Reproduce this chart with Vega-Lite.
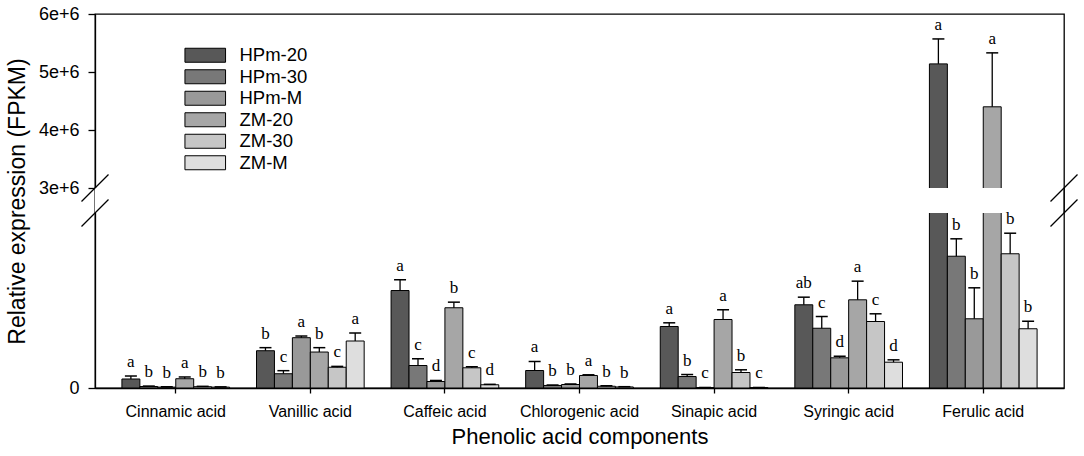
{
  "$schema": "https://vega.github.io/schema/vega-lite/v6.json",
  "width": 969,
  "height": 374,
  "autosize": {"type": "none"},
  "padding": {"left": 95, "top": 14, "right": 20, "bottom": 68},
  "background": "white",
  "datasets": {
    "fpkm": [
      {"acid": "Cinnamic acid", "group": "HPm-20", "value": 103000, "upper": 137000, "letter": "a"},
      {"acid": "Cinnamic acid", "group": "HPm-30", "value": 17000, "upper": 22000, "letter": "b"},
      {"acid": "Cinnamic acid", "group": "HPm-M", "value": 10000, "upper": 14000, "letter": "b"},
      {"acid": "Cinnamic acid", "group": "ZM-20", "value": 106000, "upper": 126000, "letter": "a"},
      {"acid": "Cinnamic acid", "group": "ZM-30", "value": 15000, "upper": 19000, "letter": "b"},
      {"acid": "Cinnamic acid", "group": "ZM-M", "value": 10000, "upper": 13000, "letter": "b"},
      {"acid": "Vanillic acid", "group": "HPm-20", "value": 426000, "upper": 461000, "letter": "b"},
      {"acid": "Vanillic acid", "group": "HPm-30", "value": 163000, "upper": 198000, "letter": "c"},
      {"acid": "Vanillic acid", "group": "HPm-M", "value": 575000, "upper": 594000, "letter": "a"},
      {"acid": "Vanillic acid", "group": "ZM-20", "value": 411000, "upper": 461000, "letter": "b"},
      {"acid": "Vanillic acid", "group": "ZM-30", "value": 237000, "upper": 247000, "letter": "c"},
      {"acid": "Vanillic acid", "group": "ZM-M", "value": 537000, "upper": 629000, "letter": "a"},
      {"acid": "Caffeic acid", "group": "HPm-20", "value": 1114000, "upper": 1237000, "letter": "a"},
      {"acid": "Caffeic acid", "group": "HPm-30", "value": 257000, "upper": 334000, "letter": "c"},
      {"acid": "Caffeic acid", "group": "HPm-M", "value": 74000, "upper": 86000, "letter": "d"},
      {"acid": "Caffeic acid", "group": "ZM-20", "value": 917000, "upper": 981000, "letter": "b"},
      {"acid": "Caffeic acid", "group": "ZM-30", "value": 231000, "upper": 243000, "letter": "c"},
      {"acid": "Caffeic acid", "group": "ZM-M", "value": 37000, "upper": 42000, "letter": "d"},
      {"acid": "Chlorogenic acid", "group": "HPm-20", "value": 200000, "upper": 303000, "letter": "a"},
      {"acid": "Chlorogenic acid", "group": "HPm-30", "value": 29000, "upper": 34000, "letter": "b"},
      {"acid": "Chlorogenic acid", "group": "HPm-M", "value": 40000, "upper": 46000, "letter": "b"},
      {"acid": "Chlorogenic acid", "group": "ZM-20", "value": 143000, "upper": 151000, "letter": "a"},
      {"acid": "Chlorogenic acid", "group": "ZM-30", "value": 20000, "upper": 25000, "letter": "b"},
      {"acid": "Chlorogenic acid", "group": "ZM-M", "value": 12000, "upper": 15000, "letter": "b"},
      {"acid": "Sinapic acid", "group": "HPm-20", "value": 703000, "upper": 745000, "letter": "a"},
      {"acid": "Sinapic acid", "group": "HPm-30", "value": 131000, "upper": 154000, "letter": "b"},
      {"acid": "Sinapic acid", "group": "HPm-M", "value": 5000, "upper": 6000, "letter": "c"},
      {"acid": "Sinapic acid", "group": "ZM-20", "value": 783000, "upper": 894000, "letter": "a"},
      {"acid": "Sinapic acid", "group": "ZM-30", "value": 177000, "upper": 208000, "letter": "b"},
      {"acid": "Sinapic acid", "group": "ZM-M", "value": 5000, "upper": 6000, "letter": "c"},
      {"acid": "Syringic acid", "group": "HPm-20", "value": 951000, "upper": 1038000, "letter": "ab"},
      {"acid": "Syringic acid", "group": "HPm-30", "value": 683000, "upper": 817000, "letter": "c"},
      {"acid": "Syringic acid", "group": "HPm-M", "value": 345000, "upper": 363000, "letter": "d"},
      {"acid": "Syringic acid", "group": "ZM-20", "value": 1008000, "upper": 1221000, "letter": "a"},
      {"acid": "Syringic acid", "group": "ZM-30", "value": 760000, "upper": 848000, "letter": "c"},
      {"acid": "Syringic acid", "group": "ZM-M", "value": 295000, "upper": 322000, "letter": "d"},
      {"acid": "Ferulic acid", "group": "HPm-20", "value": 5140000, "upper": 5570000, "letter": "a"},
      {"acid": "Ferulic acid", "group": "HPm-30", "value": 1506000, "upper": 1705000, "letter": "b"},
      {"acid": "Ferulic acid", "group": "HPm-M", "value": 791000, "upper": 1145000, "letter": "b"},
      {"acid": "Ferulic acid", "group": "ZM-20", "value": 4400000, "upper": 5330000, "letter": "a"},
      {"acid": "Ferulic acid", "group": "ZM-30", "value": 1534000, "upper": 1769000, "letter": "b"},
      {"acid": "Ferulic acid", "group": "ZM-M", "value": 677000, "upper": 763000, "letter": "b"}
    ],
    "gap": [{"from": 2000000, "to": 3000000}],
    "breaks": [{"at": 2000000}, {"at": 3000000}]
  },
  "layer": [
    {
      "data": {"name": "fpkm"},
      "mark": {"type": "bar", "stroke": "black", "strokeWidth": 1},
      "encoding": {
        "x": {"field": "acid", "type": "nominal", "sort": null, "title": "Phenolic acid components"},
        "xOffset": {"field": "group", "type": "nominal", "sort": null},
        "y": {
          "field": "value",
          "type": "quantitative",
          "title": "Relative expression (FPKM)",
          "scale": {"domain": [0, 2000000, 3000000, 6000000], "range": [374, 199, 174, 0], "nice": false, "zero": false},
          "axis": {"values": [0, 3000000, 4000000, 5000000, 6000000], "labelExpr": "datum.value == 0 ? '0' : (datum.value / 1000000) + 'e+6'"}
        },
        "fill": {
          "field": "group",
          "type": "nominal",
          "sort": null,
          "scale": {
            "domain": ["HPm-20", "HPm-30", "HPm-M", "ZM-20", "ZM-30", "ZM-M"],
            "range": ["#585858", "#787878", "#999999", "#a6a6a6", "#c6c6c6", "#dedede"]
          }
        }
      }
    },
    {
      "data": {"name": "gap"},
      "mark": {"type": "rect", "fill": "white"},
      "encoding": {
        "y": {"field": "from", "type": "quantitative"},
        "y2": {"field": "to"}
      }
    },
    {
      "data": {"name": "gap"},
      "mark": {"type": "rule", "color": "black", "strokeWidth": 1.3},
      "encoding": {
        "x": {"value": "width"},
        "y": {"field": "from", "type": "quantitative"},
        "y2": {"field": "to"}
      }
    },
    {
      "data": {"name": "fpkm"},
      "mark": {"type": "rule", "color": "black", "strokeWidth": 1.3},
      "encoding": {
        "x": {"field": "acid", "type": "nominal", "sort": null},
        "xOffset": {"field": "group", "type": "nominal", "sort": null},
        "y": {"field": "value", "type": "quantitative"},
        "y2": {"field": "upper"}
      }
    },
    {
      "data": {"name": "fpkm"},
      "mark": {"type": "tick", "orient": "horizontal", "color": "black", "thickness": 1.5, "size": 12, "opacity": 1},
      "encoding": {
        "x": {"field": "acid", "type": "nominal", "sort": null},
        "xOffset": {"field": "group", "type": "nominal", "sort": null},
        "y": {"field": "upper", "type": "quantitative"}
      }
    },
    {
      "data": {"name": "fpkm"},
      "mark": {"type": "text", "baseline": "bottom", "dy": -5, "font": "Liberation Serif", "fontSize": 17, "color": "black"},
      "encoding": {
        "x": {"field": "acid", "type": "nominal", "sort": null},
        "xOffset": {"field": "group", "type": "nominal", "sort": null},
        "y": {"field": "upper", "type": "quantitative"},
        "text": {"field": "letter"}
      }
    },
    {
      "data": {"name": "breaks"},
      "mark": {"type": "point", "shape": "M-1,1L1,-1", "size": 729, "filled": false, "stroke": "black", "strokeWidth": 1.3, "opacity": 1},
      "encoding": {
        "x": {"value": 0},
        "y": {"field": "at", "type": "quantitative"}
      }
    },
    {
      "data": {"name": "breaks"},
      "mark": {"type": "point", "shape": "M-1,1L1,-1", "size": 729, "filled": false, "stroke": "black", "strokeWidth": 1.3, "opacity": 1},
      "encoding": {
        "x": {"value": "width"},
        "y": {"field": "at", "type": "quantitative"}
      }
    }
  ],
  "config": {
    "font": "Liberation Sans",
    "view": {"stroke": "black", "strokeWidth": 1.3},
    "scale": {"bandPaddingInner": 0.39, "bandPaddingOuter": 0.695, "offsetBandPaddingInner": 0},
    "axis": {"grid": false, "domainColor": "black", "domainWidth": 1.3, "tickColor": "black", "tickWidth": 1.3, "labelColor": "black", "titleColor": "black", "labelFont": "Liberation Sans", "titleFont": "Liberation Sans", "titleFontWeight": "normal", "zindex": 1},
    "axisX": {"labelAngle": 0, "labelFontSize": 16, "tickSize": 5, "labelPadding": 10, "titleFontSize": 22, "titlePadding": 7},
    "axisY": {"labelFontSize": 18, "tickSize": 7, "labelPadding": 9, "titleFontSize": 23, "titlePadding": 9},
    "legend": {"orient": "none", "legendX": 101, "legendY": 32, "title": null, "padding": 0, "symbolType": "M-2.9,-1H2.9V1H-2.9Z", "symbolSize": 196, "symbolStrokeColor": "black", "symbolStrokeWidth": 1, "symbolOpacity": 1, "labelFontSize": 18.5, "labelFont": "Liberation Sans", "labelColor": "black", "labelOffset": 25, "rowPadding": 2.5}
  }
}
